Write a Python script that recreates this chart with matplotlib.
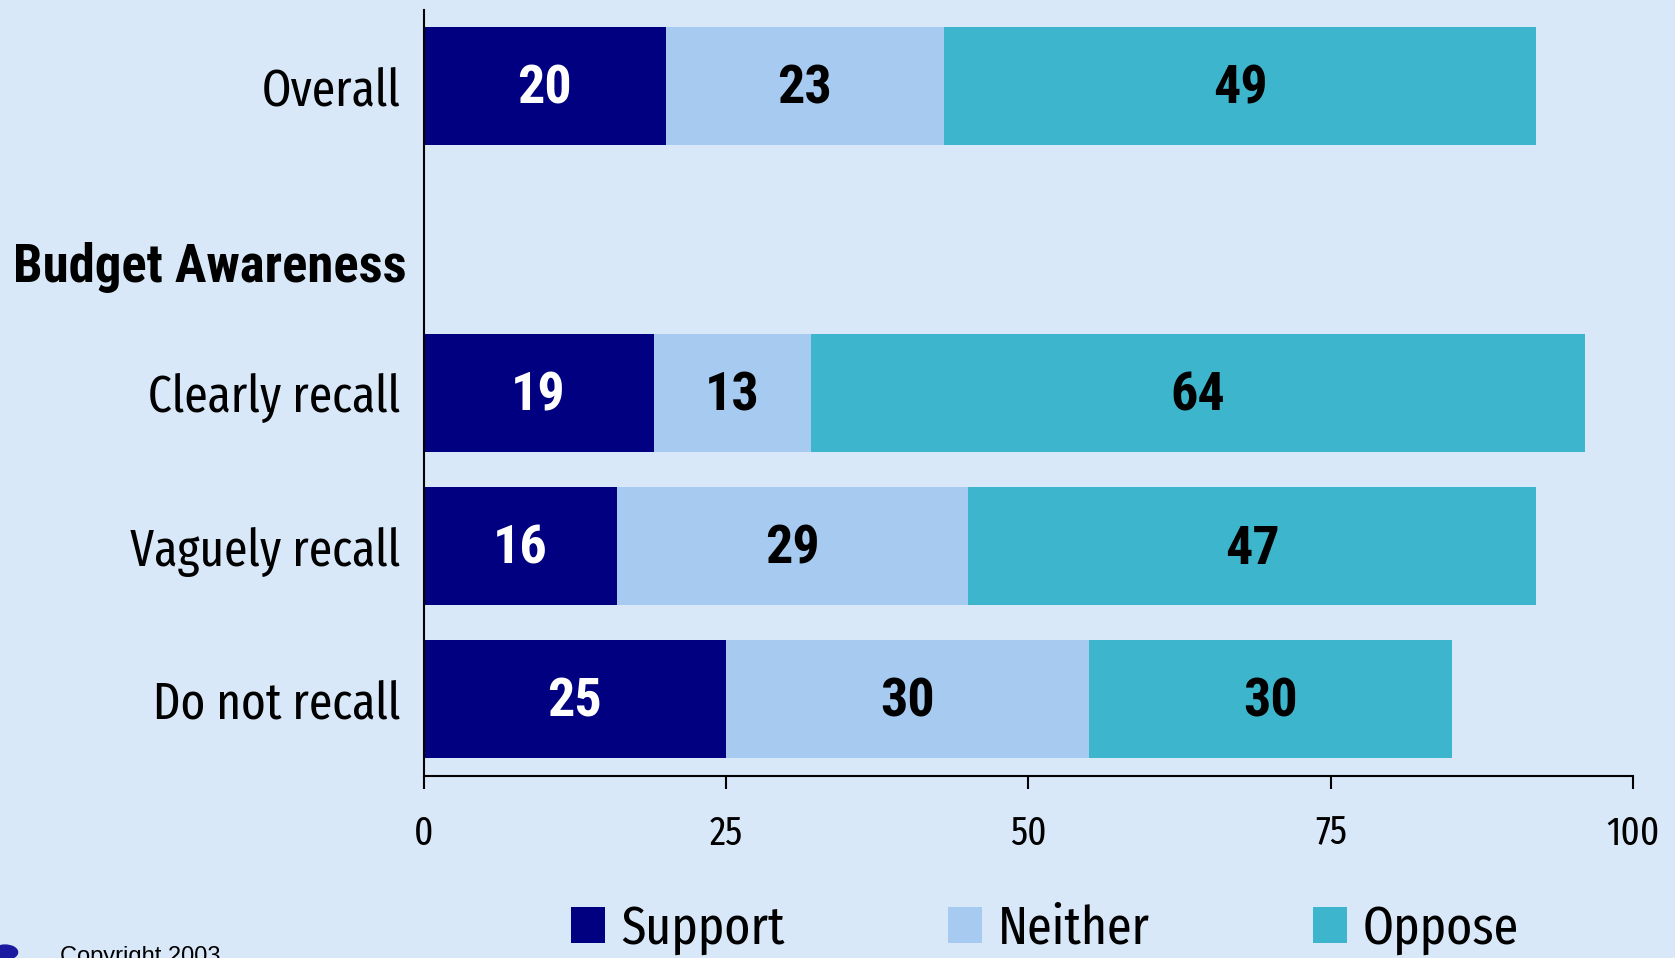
import matplotlib
matplotlib.use("Agg")
import matplotlib.pyplot as plt
from matplotlib.patches import Circle, Patch

# data
categories = ["Overall", "Clearly recall", "Vaguely recall", "Do not recall"]
positions = [0, 2, 3, 4]          # slot 1 is the "Budget Awareness" heading
support = [20, 19, 16, 25]
neither = [23, 13, 29, 30]
oppose = [49, 64, 47, 30]
series_names = ["Support", "Neither", "Oppose"]
colors = ["#000080", "#a6caf0", "#3db6cd"]
text_colors = ["white", "black", "black"]
xticks = [0, 25, 50, 75, 100]

NARROW = ["Fira Sans Extra Condensed", "Roboto Condensed", "DejaVu Sans"]
BOLD = ["Roboto Condensed", "DejaVu Sans"]
BG = "#d8e8f8"

fig = plt.figure(figsize=(16.75, 9.58), dpi=100, facecolor=BG)
ax = fig.add_axes([0.253, 0.190, 0.722, 0.800])
ax.set_facecolor("none")

left = [0, 0, 0, 0]
handles = []
for vals, name, col, tcol in zip([support, neither, oppose], series_names, colors, text_colors):
    bars = ax.barh(positions, vals, left=left, height=0.77, color=col, label=name)
    handles.append(Patch(facecolor=col, label=name))
    for b, v in zip(bars, vals):
        ax.text(b.get_x() + b.get_width() / 2, b.get_y() + b.get_height() / 2 + 0.02, str(v),
                ha="center", va="center", color=tcol, fontsize=39, fontweight="bold",
                family=BOLD)
    left = [l + v for l, v in zip(left, vals)]

ax.set_xlim(0, 100)
ax.set_ylim(4.5, -0.5)
ax.set_xticks(xticks)
ax.set_xticklabels([str(t) for t in xticks], family=NARROW, fontsize=29)
ax.set_yticks(positions)
ax.set_yticklabels(categories, family=NARROW, fontsize=37)
ax.tick_params(axis="y", length=0, pad=17)
ax.tick_params(axis="x", direction="out", length=9, width=1.5, pad=18)
for s in ["top", "right"]:
    ax.spines[s].set_visible(False)
for s in ["left", "bottom"]:
    ax.spines[s].set_linewidth(1.5)

ax.text(-0.014, 1.18, "Budget Awareness", transform=ax.get_yaxis_transform(),
        ha="right", va="center", fontsize=38, fontweight="bold", family=BOLD)

fig.legend(handles=handles, loc="center", bbox_to_anchor=(0.624, 0.030), ncol=3,
           frameon=False, prop={"family": NARROW, "size": 39},
           handlelength=0.63, handleheight=0.65, handletextpad=0.3, columnspacing=3.0)

fig.text(0.036, 0.013, "Copyright 2003", ha="left", va="top", fontsize=17, family="Liberation Sans")
fig.patches.append(Circle((0.003, 0.006), 0.0075, transform=fig.transFigure, color="#1a1aa0"))

fig.savefig("out.png", dpi=100, facecolor=BG)
